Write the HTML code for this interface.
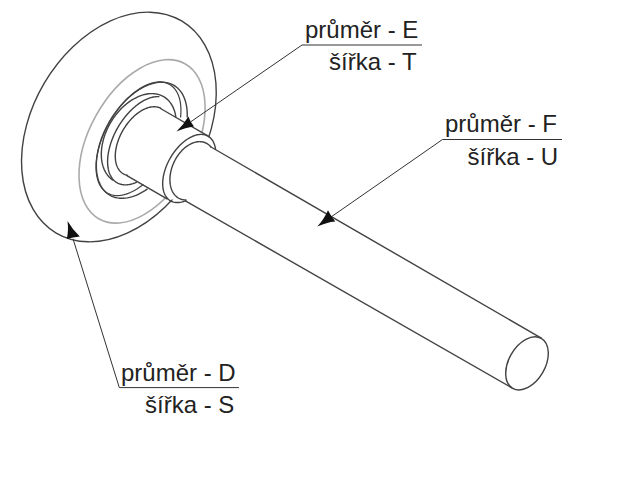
<!DOCTYPE html>
<html><head><meta charset="utf-8">
<style>
html,body{margin:0;padding:0;background:#fff;width:640px;height:480px;overflow:hidden}
svg{position:absolute;left:0;top:0}
.t{font-family:"Liberation Sans",sans-serif;font-size:24px;fill:#222}
</style></head><body>
<svg width="640" height="480" viewBox="0 0 640 480">
<g fill="none" stroke-linecap="round" stroke-linejoin="round">
<ellipse cx="118.9" cy="127" rx="86.55" ry="123.2" transform="rotate(30.6 118.9 127)" stroke="#424242" stroke-width="1.4"/>
<ellipse cx="142.05" cy="141.4" rx="52.8" ry="88.7" transform="rotate(28.9 142.05 141.4)" stroke="#aaa" stroke-width="1.6"/>

<path d="M160.5,108.5 L207.5,135.6 L215.6,149.2 L541.3,338.1 L512.7,388.3 L185.8,201.1 L167,198.9 L126.5,175.4 Z" fill="#fff" stroke="none"/>
<path d="M187.21,117.10 L187.25,114.51 L187.18,111.98 L187.00,109.51 L186.71,107.13 L186.31,104.82 L185.80,102.60 L185.19,100.47 L184.47,98.43 L183.64,96.50 L182.72,94.67 L181.70,92.95 L180.58,91.35 L179.36,89.87 L178.06,88.51 L176.66,87.27 L175.19,86.16 L173.63,85.19 L171.99,84.34 L170.28,83.63 L168.51,83.06 L166.66,82.63 L164.76,82.34 L162.80,82.18 L160.79,82.17 L158.74,82.30 L156.64,82.57 L154.51,82.98 L152.35,83.53 L150.16,84.21 L147.95,85.03 L145.73,85.99 L143.49,87.07 L141.25,88.29 L139.02,89.63 L136.79,91.09 L134.57,92.67 L132.37,94.37 L130.19,96.18 L128.05,98.09 L125.93,100.11 L123.85,102.22 L121.82,104.43 L119.83,106.72 L117.90,109.10 L116.03,111.55 L114.22,114.07 L112.47,116.65 L110.80,119.29 L109.20,121.98 L107.68,124.72 L106.24,127.49 L104.89,130.29 L103.63,133.12 L102.46,135.97 L101.38,138.82 L100.41,141.68 L99.53,144.53 L98.76,147.38 L98.09,150.21 L97.53,153.01 L97.07,155.78 L96.72,158.52 L96.48,161.21 L96.35,163.85 L96.34,166.43 L96.43,168.95 L96.63,171.40 L96.94,173.77 L97.36,176.07 L97.88,178.27 L98.52,180.39 L99.26,182.40 L100.10,184.32 L101.04,186.12 L102.08,187.82 L103.22,189.40 L104.45,190.86 L105.77,192.20 L107.18,193.42 L108.67,194.50 L110.24,195.46 L111.89,196.28 L113.61,196.96 L115.40,197.51 L117.25,197.91 L119.17,198.18 L121.14,198.31 L123.15,198.30 L125.22,198.14 L127.32,197.85 L129.46,197.41 L131.63,196.84 L133.82,196.13 L136.03,195.29 L138.26,194.31 L140.49,193.20 L142.73,191.96 L144.96,190.60 L147.19,189.12" stroke="#424242" stroke-width="1.4"/>
<path d="M180.59,116.96 L180.81,114.37 L180.93,111.83 L180.94,109.37 L180.84,106.97 L180.64,104.66 L180.33,102.43 L179.92,100.29 L179.40,98.25 L178.79,96.31 L178.07,94.48 L177.25,92.75 L176.33,91.14 L175.33,89.65 L174.23,88.28 L173.04,87.04 L171.76,85.93 L170.40,84.95 L168.96,84.10 L167.45,83.39 L165.86,82.82 L164.20,82.38 L162.48,82.09 L160.70,81.94 L158.87,81.93 L156.98,82.06 L155.05,82.34 L153.07,82.75 L151.06,83.31 L149.02,84.00 L146.95,84.83 L144.87,85.80 L142.76,86.90 L140.64,88.12 L138.52,89.47 L136.40,90.95 L134.29,92.55 L132.18,94.26 L130.09,96.08 L128.02,98.01 L125.98,100.04 L123.97,102.16 L121.99,104.38 L120.06,106.68 L118.17,109.07 L116.33,111.53 L114.55,114.05 L112.83,116.64 L111.17,119.28 L109.58,121.97 L108.06,124.70 L106.62,127.47 L105.26,130.27 L103.98,133.09 L102.79,135.92 L101.68,138.76 L100.67,141.59 L99.75,144.43 L98.93,147.24 L98.21,150.04 L97.59,152.81 L97.07,155.54 L96.65,158.23 L96.34,160.87 L96.13,163.46 L96.03,165.98 L96.04,168.44 L96.15,170.82 L96.37,173.12 L96.69,175.34 L97.12,177.47 L97.65,179.49 L98.28,181.42 L99.01,183.24 L99.84,184.95 L100.77,186.55 L101.79,188.02 L102.90,189.37 L104.10,190.60 L105.39,191.69 L106.76,192.65 L108.21,193.48 L109.74,194.17 L111.33,194.73 L113.00,195.14 L114.73,195.41 L116.51,195.55 L118.36,195.54 L120.25,195.38 L122.19,195.09 L124.17,194.66 L126.18,194.08 L128.23,193.37 L130.30,192.52 L132.39,191.54 L134.50,190.42 L136.61,189.18 L138.74,187.81 L140.86,186.32 L142.97,184.71" stroke="#424242" stroke-width="1.2"/>
<path d="M175.82,116.81 L175.58,115.31 L175.28,113.85 L174.92,112.42 L174.52,111.04 L174.06,109.69 L173.55,108.39 L172.99,107.13 L172.38,105.92 L171.71,104.75 L171.00,103.64 L170.25,102.58 L169.44,101.57 L168.59,100.61 L167.70,99.71 L166.77,98.87 L165.79,98.09 L164.77,97.37 L163.72,96.71 L162.63,96.11 L161.50,95.57 L160.34,95.10 L159.15,94.69 L157.93,94.34 L156.68,94.06 L155.40,93.85 L154.10,93.70 L152.78,93.62 L151.44,93.61 L150.07,93.66 L148.70,93.77 L147.30,93.96 L145.90,94.21 L144.48,94.52 L143.05,94.90 L141.62,95.35 L140.19,95.86 L138.75,96.43 L137.31,97.06 L135.88,97.76 L134.45,98.51 L133.02,99.33 L131.61,100.20 L130.20,101.13 L128.81,102.11 L127.43,103.15 L126.07,104.24 L124.73,105.39 L123.40,106.58 L122.10,107.81 L120.83,109.10 L119.58,110.42 L118.36,111.79 L117.17,113.20 L116.01,114.65 L114.89,116.13 L113.80,117.64 L112.75,119.19 L111.73,120.76 L110.76,122.36 L109.82,123.99 L108.93,125.63 L108.09,127.30 L107.28,128.98 L106.53,130.68 L105.82,132.39 L105.16,134.10 L104.55,135.83 L103.99,137.56 L103.48,139.29 L103.03,141.02 L102.63,142.74 L102.27,144.46 L101.98,146.17 L101.74,147.87 L101.55,149.56 L101.42,151.23 L101.34,152.89 L101.31,154.52 L101.35,156.13 L101.43,157.71 L101.58,159.26 L101.77,160.79 L102.03,162.28 L102.33,163.74 L102.69,165.16 L103.10,166.54 L103.57,167.88 L104.09,169.18 L104.65,170.43 L105.27,171.64 L105.94,172.80 L106.65,173.90 L107.42,174.96 L108.23,175.96 L109.08,176.91 L109.98,177.80 L110.92,178.63 L111.90,179.41 L112.92,180.12" stroke="#424242" stroke-width="1.4"/>
<path d="M158.84,96.67 L157.79,96.64 L156.72,96.65 L155.63,96.73 L154.53,96.86 L153.40,97.04 L152.27,97.28 L151.11,97.58 L149.95,97.93 L148.78,98.33 L147.59,98.79 L146.40,99.30 L145.20,99.87 L144.00,100.48 L142.80,101.15 L141.59,101.87 L140.38,102.63 L139.18,103.45 L137.97,104.31 L136.78,105.22 L135.58,106.17 L134.40,107.17 L133.22,108.21 L132.06,109.29 L130.90,110.41 L129.77,111.56 L128.64,112.76 L127.53,113.99 L126.44,115.26 L125.37,116.55 L124.32,117.88 L123.29,119.24 L122.28,120.62 L121.30,122.03 L120.34,123.47 L119.41,124.92 L118.51,126.40 L117.64,127.89 L116.80,129.40 L115.99,130.93 L115.21,132.46 L114.46,134.01 L113.75,135.57 L113.08,137.13 L112.44,138.69 L111.83,140.26 L111.27,141.83 L110.74,143.40 L110.25,144.97 L109.80,146.53 L109.40,148.08 L109.03,149.62 L108.70,151.16 L108.42,152.68 L108.17,154.18 L107.97,155.67 L107.82,157.13 L107.70,158.58 L107.63,160.00 L107.60,161.40 L107.61,162.78 L107.67,164.12 L107.77,165.44 L107.91,166.73 L108.09,167.98 L108.32,169.20 L108.59,170.38 L108.90,171.52 L109.25,172.63 L109.65,173.69 L110.08,174.71 L110.55,175.69 L111.06,176.63 L111.61,177.52 L112.20,178.36 L112.83,179.16 L113.49,179.90 L114.19,180.60 L114.92,181.25 L115.69,181.84 L116.49,182.39 L117.32,182.88 L118.18,183.31 L119.07,183.70 L119.99,184.03 L120.93,184.30 L121.91,184.52 L122.90,184.68 L123.93,184.79 L124.97,184.84 L126.03,184.84 L127.12,184.78 L128.22,184.66 L129.34,184.49 L130.47,184.26 L131.62,183.98 L132.78,183.64 L133.95,183.25 L135.13,182.81 L136.32,182.31" stroke="#424242" stroke-width="1.4"/>
<path d="M160.80,108.29 L160.14,107.97 L159.45,107.69 L158.74,107.44 L158.01,107.23 L157.27,107.06 L156.51,106.92 L155.73,106.83 L154.94,106.77 L154.14,106.75 L153.32,106.77 L152.49,106.83 L151.65,106.92 L150.80,107.05 L149.94,107.22 L149.07,107.43 L148.19,107.68 L147.31,107.96 L146.42,108.28 L145.53,108.63 L144.63,109.03 L143.73,109.45 L142.83,109.92 L141.93,110.41 L141.03,110.95 L140.13,111.51 L139.23,112.11 L138.34,112.74 L137.45,113.40 L136.57,114.09 L135.69,114.82 L134.82,115.57 L133.96,116.35 L133.11,117.16 L132.27,117.99 L131.43,118.85 L130.62,119.74 L129.81,120.64 L129.02,121.58 L128.24,122.53 L127.48,123.50 L126.74,124.50 L126.01,125.51 L125.30,126.54 L124.61,127.58 L123.94,128.64 L123.29,129.72 L122.66,130.81 L122.05,131.91 L121.46,133.01 L120.90,134.13 L120.36,135.26 L119.85,136.39 L119.36,137.53 L118.90,138.67 L118.46,139.82 L118.05,140.96 L117.67,142.11 L117.31,143.26 L116.98,144.40 L116.68,145.54 L116.41,146.68 L116.16,147.80 L115.95,148.93 L115.76,150.04 L115.61,151.14 L115.48,152.24 L115.38,153.32 L115.32,154.38 L115.28,155.44 L115.27,156.47 L115.30,157.49 L115.35,158.49 L115.43,159.48 L115.54,160.44 L115.69,161.38 L115.86,162.30 L116.06,163.19 L116.29,164.06 L116.55,164.91 L116.84,165.73 L117.15,166.52 L117.50,167.28 L117.87,168.02 L118.27,168.73 L118.69,169.40 L119.14,170.04 L119.62,170.66 L120.12,171.24 L120.65,171.78 L121.20,172.29 L121.78,172.77 L122.37,173.21 L122.99,173.62 L123.63,173.99 L124.30,174.33 L124.98,174.63 L125.68,174.89 L126.40,175.11 L127.13,175.30" stroke="#424242" stroke-width="1.4"/>
<path d="M215.52,149.26 L215.33,148.01 L215.09,146.81 L214.80,145.65 L214.46,144.54 L214.06,143.47 L213.62,142.46 L213.13,141.49 L212.58,140.59 L212.00,139.73 L211.36,138.94 L210.68,138.21 L209.96,137.53 L209.19,136.92 L208.39,136.38 L207.54,135.89 L206.66,135.48 L205.75,135.13 L204.80,134.85 L203.82,134.63 L202.81,134.48 L201.77,134.41 L200.71,134.40 L199.62,134.46 L198.51,134.59 L197.39,134.78 L196.25,135.05 L195.09,135.38 L193.92,135.78 L192.74,136.25 L191.56,136.78 L190.37,137.37 L189.18,138.03 L187.99,138.74 L186.80,139.52 L185.61,140.36 L184.43,141.25 L183.27,142.20 L182.11,143.20 L180.97,144.26 L179.85,145.36 L178.74,146.51 L177.66,147.70 L176.60,148.93 L175.56,150.21 L174.55,151.52 L173.57,152.86 L172.63,154.24 L171.71,155.64 L170.84,157.07 L170.00,158.53 L169.19,160.00 L168.43,161.49 L167.71,163.00 L167.04,164.52 L166.40,166.04 L165.82,167.57 L165.28,169.10 L164.79,170.63 L164.35,172.16 L163.96,173.67 L163.62,175.18 L163.33,176.68 L163.10,178.15 L162.92,179.61 L162.79,181.05 L162.71,182.46 L162.69,183.84 L162.72,185.19 L162.80,186.51 L162.94,187.79 L163.13,189.03 L163.37,190.23 L163.67,191.39 L164.02,192.50 L164.42,193.56 L164.86,194.57 L165.36,195.53 L165.91,196.43 L166.50,197.28 L167.14,198.07 L167.82,198.80 L168.55,199.47 L169.31,200.07 L170.12,200.61 L170.97,201.09 L171.85,201.50 L172.77,201.85 L173.72,202.13 L174.70,202.33 L175.72,202.48 L176.76,202.55 L177.82,202.55 L178.91,202.49 L180.02,202.35 L181.14,202.15 L182.29,201.88 L183.45,201.54 L184.61,201.14 L185.79,200.67" stroke="#424242" stroke-width="1.4"/>
<path d="M210.96,147.06 L210.42,146.43 L209.87,145.84 L209.28,145.28 L208.68,144.76 L208.05,144.28 L207.40,143.84 L206.72,143.43 L206.03,143.07 L205.31,142.75 L204.58,142.47 L203.83,142.22 L203.07,142.02 L202.29,141.87 L201.49,141.75 L200.69,141.68 L199.87,141.64 L199.04,141.65 L198.20,141.71 L197.35,141.80 L196.50,141.94 L195.64,142.12 L194.78,142.34 L193.91,142.60 L193.05,142.91 L192.18,143.25 L191.31,143.63 L190.45,144.06 L189.58,144.52 L188.73,145.02 L187.87,145.56 L187.03,146.13 L186.19,146.74 L185.36,147.39 L184.55,148.07 L183.74,148.78 L182.95,149.52 L182.17,150.30 L181.41,151.10 L180.67,151.94 L179.94,152.80 L179.23,153.68 L178.54,154.60 L177.87,155.53 L177.22,156.49 L176.59,157.47 L175.99,158.47 L175.41,159.48 L174.86,160.51 L174.33,161.56 L173.83,162.62 L173.36,163.69 L172.91,164.78 L172.50,165.87 L172.11,166.97 L171.75,168.07 L171.43,169.18 L171.13,170.29 L170.87,171.40 L170.63,172.51 L170.43,173.62 L170.27,174.72 L170.13,175.82 L170.03,176.91 L169.96,177.99 L169.92,179.06 L169.92,180.12 L169.95,181.17 L170.01,182.20 L170.10,183.21 L170.23,184.21 L170.39,185.18 L170.58,186.14 L170.81,187.07 L171.07,187.98 L171.35,188.87 L171.67,189.73 L172.02,190.56 L172.40,191.36 L172.81,192.13 L173.25,192.87 L173.72,193.58 L174.21,194.26 L174.73,194.90 L175.28,195.51 L175.85,196.08 L176.45,196.61 L177.07,197.11 L177.71,197.57 L178.38,197.99 L179.06,198.37 L179.77,198.71 L180.49,199.01 L181.24,199.27 L181.99,199.48 L182.77,199.66 L183.56,199.79 L184.36,199.89 L185.17,199.93 L186.00,199.94" stroke="#424242" stroke-width="1.4"/>
<path d="M160.5,108.5 L207.8,135.8 M126.5,175.4 L167,198.9" stroke="#424242" stroke-width="1.4"/>
<path d="M211,147 L541.3,338.1 M185.8,201.1 L512.7,388.3" stroke="#424242" stroke-width="1.4"/>
<ellipse cx="527" cy="363.4" rx="18.2" ry="28.75" transform="rotate(29.8 527 363.4)" stroke="#424242" stroke-width="1.4" fill="#fff"/>
</g>
<g stroke="#333" stroke-width="1" fill="none">
<path d="M422,45 L302,45 L191,121.6"/>
<path d="M562,139.5 L442.5,139.5 L331,217"/>
<path d="M239,387.6 L119.3,387.6 L73,238.75"/>
</g>
<g fill="#111">
<path d="M176.50,131.60 Q183.95,124.36 188.30,116.50 Q190.42,121.96 194.00,126.40 Q185.66,127.33 176.50,131.60 Z"/>
<path d="M317.30,226.50 Q324.34,218.80 328.00,210.30 Q330.93,216.38 335.30,221.40 Q326.53,222.13 317.30,226.50 Z"/>
<path d="M67.50,221.00 Q68.79,230.85 66.70,239.00 Q72.96,236.86 79.80,236.40 Q72.72,230.07 67.50,221.00 Z"/>
</g>
<text class="t" x="305" y="38">průměr - E</text>
<text class="t" x="329" y="69.5">šířka - T</text>
<text class="t" x="445" y="132.2">průměr - F</text>
<text class="t" x="467.5" y="165.2">šířka - U</text>
<text class="t" x="121" y="380.5">průměr - D</text>
<text class="t" x="145" y="412.5">šířka - S</text>
</svg>
</body></html>
